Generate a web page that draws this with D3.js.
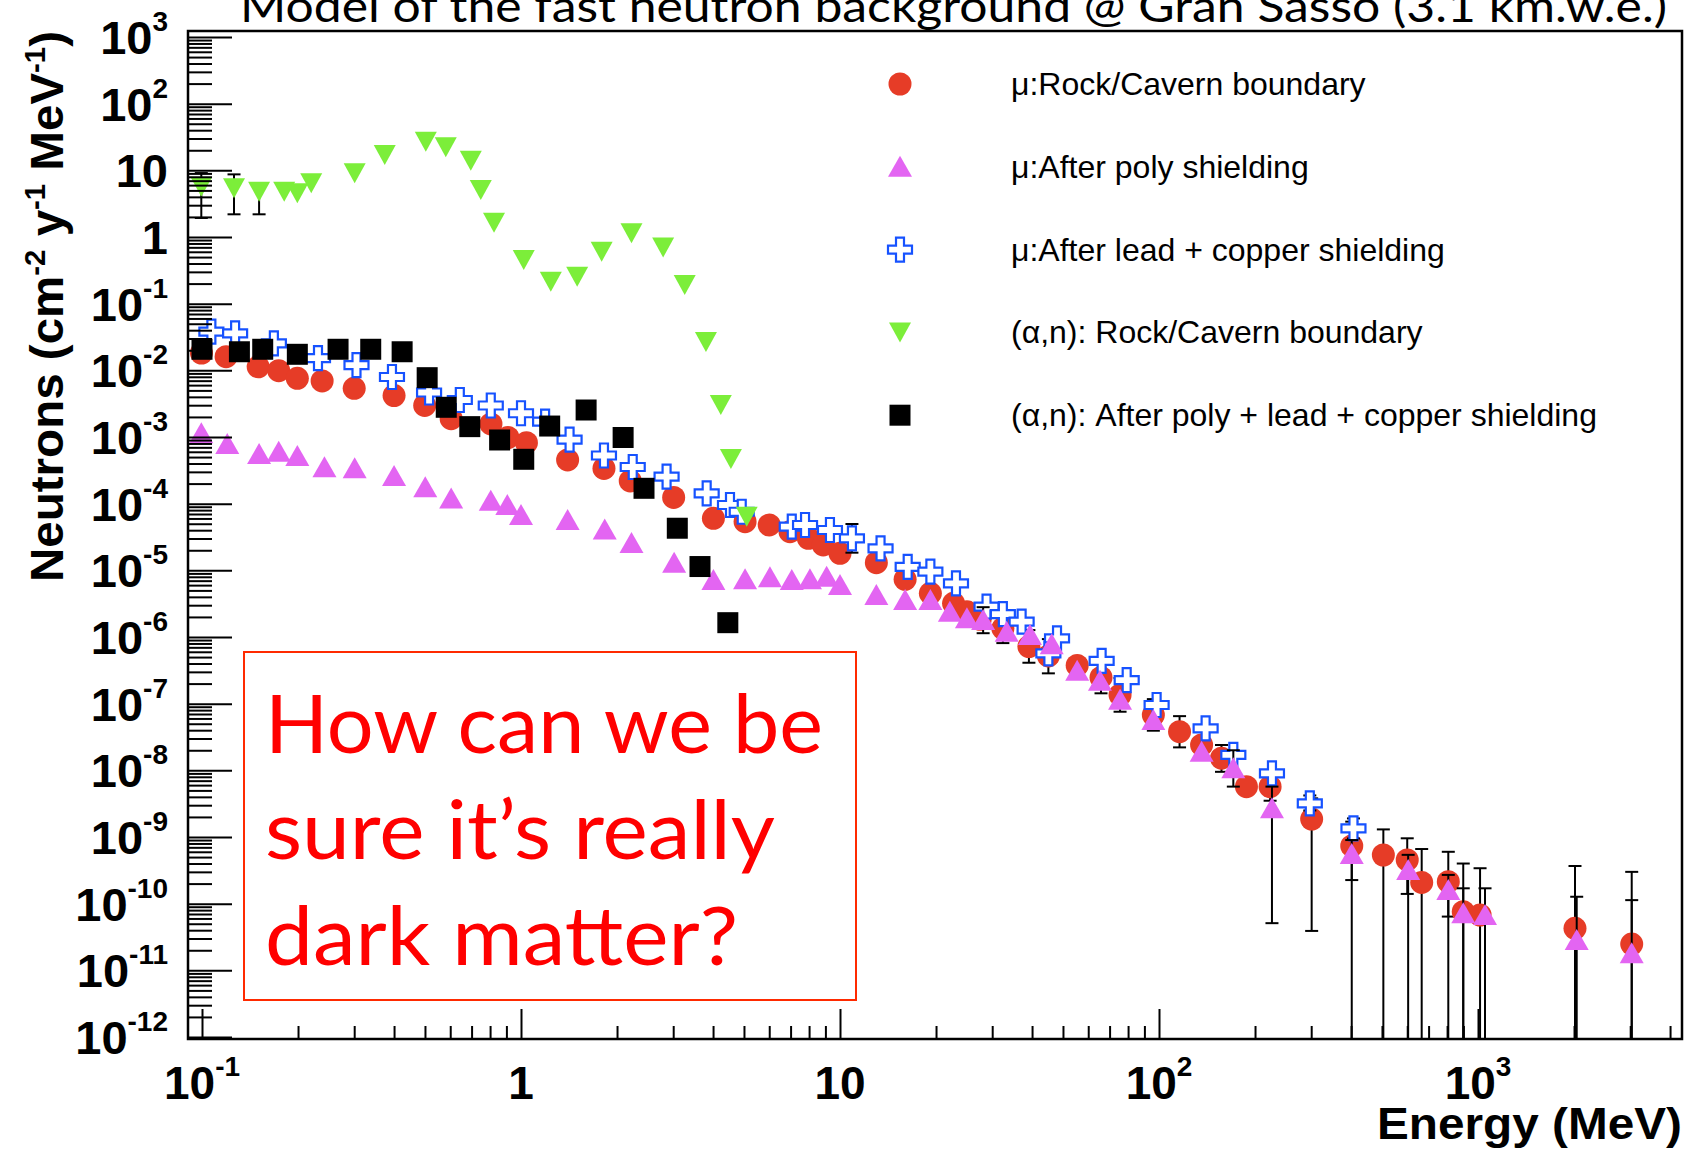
<!DOCTYPE html>
<html>
<head>
<meta charset="utf-8">
<script src="https://cdn.jsdelivr.net/npm/d3@7"></script>
<style>
  body { margin: 0; background: #fff; }
  svg { display: block; background: #fff; }
  .tick-label, .axis-title { font-family: "Liberation Sans", Arial, Helvetica, sans-serif; font-weight: bold; fill: #000; }
  .legend-text { font-family: "Liberation Sans", Arial, Helvetica, sans-serif; font-size: 32px; fill: #000; }
  .slide-text { font-family: Lato, "Open Sans", sans-serif; }
</style>
</head>
<body>
<svg id="chart" width="1692" height="1150"></svg>
<script>
// ---- data (energy in MeV, flux in neutrons cm^-2 y^-1 MeV^-1) ----
const redE = [0.0996, 0.119, 0.150, 0.174, 0.199, 0.238, 0.300, 0.400, 0.499, 0.604, 0.805, 0.910, 1.04, 1.40, 1.82, 2.20, 3.01, 4.01, 5.04, 6.00, 6.97, 7.96, 8.86, 10.0, 13.0, 16.0, 19.2, 22.7, 25.0, 27.5, 32.4, 39.1, 45.0, 55.4, 65.8, 75.5, 96.0, 116, 136, 157, 188, 223, 301, 402, 505, 600, 666, 807, 899, 1015, 2014, 3033];
const redN = [0.0182, 0.0160, 0.0113, 0.00988, 0.0076, 0.00692, 0.00538, 0.00419, 0.00297, 0.00188, 0.00157, 9.83e-4, 8.21e-4, 4.52e-4, 3.37e-4, 2.19e-4, 1.24e-4, 6.03e-5, 5.36e-5, 4.79e-5, 3.80e-5, 3.02e-5, 2.40e-5, 1.80e-5, 1.30e-5, 7.34e-6, 4.52e-6, 3.20e-6, 2.40e-6, 1.84e-6, 1.35e-6, 7.20e-7, 5.19e-7, 3.74e-7, 2.47e-7, 1.35e-7, 6.76e-8, 3.80e-8, 2.40e-8, 1.52e-8, 5.68e-9, 5.68e-9, 1.86e-9, 7.33e-10, 5.37e-10, 4.52e-10, 2.08e-10, 2.14e-10, 7.57e-11, 6.76e-11, 4.27e-11, 2.48e-11];

const pinkE = [0.0995, 0.120, 0.151, 0.174, 0.199, 0.242, 0.301, 0.400, 0.501, 0.604, 0.804, 0.906, 1.00, 1.40, 1.83, 2.22, 3.02, 4.01, 5.04, 6.03, 7.06, 8.05, 9.08, 10.0, 13.0, 16.0, 19.2, 22.1, 25.0, 28.1, 33.3, 39.4, 46.1, 55.4, 65.3, 75.5, 96.0, 136, 171, 226, 402, 604, 807, 899, 1052, 2039, 3033];
const pinkN = [1.14e-3, 7.85e-4, 5.56e-4, 6.02e-4, 5.19e-4, 3.51e-4, 3.39e-4, 2.60e-4, 1.76e-4, 1.20e-4, 1.11e-4, 9.55e-5, 6.76e-5, 5.69e-5, 4.08e-5, 2.57e-5, 1.30e-5, 7.16e-6, 7.34e-6, 7.86e-6, 7.16e-6, 7.34e-6, 8.02e-6, 6.03e-6, 4.27e-6, 3.59e-6, 3.59e-6, 2.40e-6, 1.91e-6, 1.80e-6, 1.20e-6, 1.07e-6, 7.80e-7, 3.11e-7, 2.20e-7, 1.14e-7, 5.69e-8, 1.90e-8, 1.07e-8, 2.70e-9, 5.56e-10, 3.20e-10, 1.60e-10, 7.17e-11, 6.76e-11, 2.85e-11, 1.80e-11];

const blueE = [0.107, 0.127, 0.168, 0.231, 0.305, 0.394, 0.515, 0.643, 0.804, 1.00, 1.19, 1.42, 1.82, 2.24, 2.86, 3.82, 4.52, 4.92, 7.06, 7.77, 9.30, 10.9, 13.4, 16.3, 19.2, 23.1, 28.8, 32.4, 37.1, 45.0, 47.9, 66.1, 79.2, 98.3, 140, 171, 226, 297, 407];
const blueN = [0.038, 0.0359, 0.0254, 0.0152, 0.0120, 0.00794, 0.00465, 0.00359, 0.00297, 0.00227, 0.0017, 9.14e-4, 5.28e-4, 3.55e-4, 2.54e-4, 1.43e-4, 9.55e-5, 7.57e-5, 4.51e-5, 4.79e-5, 4.03e-5, 3.02e-5, 2.14e-5, 1.13e-5, 9.54e-6, 6.39e-6, 2.85e-6, 2.21e-6, 1.70e-6, 5.69e-7, 9.56e-7, 4.37e-7, 2.26e-7, 9.55e-8, 4.27e-8, 1.70e-8, 9.03e-9, 3.20e-9, 1.35e-9];

const greenE = [0.0995, 0.126, 0.151, 0.181, 0.199, 0.220, 0.301, 0.374, 0.503, 0.581, 0.696, 0.748, 0.823, 1.02, 1.24, 1.50, 1.79, 2.22, 2.79, 3.26, 3.80, 4.23, 4.55, 5.10];
const greenN = [5.68, 5.38, 4.78, 4.78, 4.52, 6.39, 9.03, 17.0, 26.9, 22.2, 13.9, 5.07, 1.64, 0.452, 0.214, 0.254, 0.602, 1.14, 0.696, 0.191, 0.0266, 0.00302, 4.68e-4, 6.38e-5];

const blackE = [0.100, 0.131, 0.155, 0.199, 0.267, 0.338, 0.424, 0.508, 0.583, 0.691, 0.857, 1.02, 1.23, 1.60, 2.09, 2.43, 3.09, 3.64, 4.45];
const blackN = [0.0207, 0.0190, 0.0207, 0.0174, 0.0207, 0.0207, 0.0190, 0.00776, 0.00279, 0.00143, 9.02e-4, 4.63e-4, 1.46e-3, 2.54e-3, 9.83e-4, 1.70e-4, 4.28e-5, 1.14e-5, 1.64e-6];

// error bars as [energy, low, high]; a low of 1e-13 runs off the bottom of the frame
const redErr = [[32.4, 8.1e-7, 2.29e-6], [39.1, 4.11e-7, 1.27e-6], [45.0, 2.85e-7, 9.3e-7], [65.8, 1.43e-7, 4.2e-7], [75.5, 7.57e-8, 2.43e-7], [96.0, 3.93e-8, 1.17e-7], [116, 2.21e-8, 6.5e-8], [157, 9.5e-9, 2.4e-8], [223, 3.5e-9, 9e-9], [301, 3.9e-11, 3.8e-9], [402, 2.26e-10, 1.7e-9], [505, 1e-13, 1.3e-9], [600, 1.4e-10, 9.56e-10], [666, 1e-13, 6.6e-10], [807, 6.4e-11, 6.0e-10], [899, 1e-13, 4.0e-10], [1015, 1e-13, 3.4e-10], [2014, 1e-13, 3.67e-10], [3033, 1e-13, 3.0e-10]];
const pinkErr = [[28.1, 1.14e-6, 2.8e-6], [171, 5.7e-9, 2e-8], [226, 5.1e-11, 5.7e-9], [402, 1e-13, 9.0e-10], [604, 1e-13, 5.4e-10], [807, 1e-13, 2.7e-10], [899, 1e-13, 1.7e-10], [1052, 1e-13, 1.7e-10], [2039, 1e-13, 1.27e-10], [3033, 1e-13, 1.13e-10]];
const blueErr = [[10.9, 1.84e-5, 4.95e-5], [297, 2.5e-9, 4.2e-9], [407, 9.5e-10, 1.9e-9]];
const greenErr = [[0.0995, 1.93, 9.1], [0.126, 2.19, 8.7], [0.151, 2.19, 6.39]];

const legendLabels = ["\u03bc:Rock/Cavern boundary", "\u03bc:After poly shielding", "\u03bc:After lead + copper shielding", "(\u03b1,n): Rock/Cavern boundary", "(\u03b1,n): After poly + lead + copper shielding"];
const xTickExp = [-1, 0, 1, 2, 3];
const yTickExp = [3, 2, 1, 0, -1, -2, -3, -4, -5, -6, -7, -8, -9, -10, -11, -12];
const titleText = "Model of the fast neutron background @ Gran Sasso (3.1 km.w.e.)";
const noteLines = ["How can we be", "sure it\u2019s really", "dark matter?"];

// ---- layout ----
const frame = { left: 188, right: 1682, top: 31, bottom: 1039 };
const svg = d3.select("#chart");

const x = d3.scaleLog().domain([0.1, 1000]).range([202, 1478]);
const y = d3.scaleLog().domain([1e-12, 1e3]).range([1037, 37]);

// marker shapes, centred on 0,0
const shapes = {
    circle: () => d3.symbol(d3.symbolCircle, Math.PI * 11.5 * 11.5)(),
    up: () => "M-12,10L12,10L0,-11Z",
    down: () => "M-11,-10L11,-10L0,10Z",
    square: () => "M-10.5,-10.5H10.5V10.5H-10.5Z",
    cross: () => "M-4,-12H4V-4H12V4H4V12H-4V4H-12V-4H-4Z"
};

const series = [
    { E: redE, N: redN, err: redErr, shape: "circle", fill: "#e63c27", stroke: "none" },
    { E: blueE, N: blueN, err: blueErr, shape: "cross", fill: "#fff", stroke: "#1652ff" },
    { E: pinkE, N: pinkN, err: pinkErr, shape: "up", fill: "#e365f2", stroke: "none" },
    { E: greenE, N: greenN, err: greenErr, shape: "down", fill: "#7cee3a", stroke: "none" },
    { E: blackE, N: blackN, err: [], shape: "square", fill: "#000", stroke: "none" }
];
// legend order differs from draw order
const legendOrder = [0, 2, 1, 3, 4];

// ---- title (cut by the top edge, as on the slide) ----
svg.append("text")
    .attr("class", "slide-text")
    .attr("x", 240).attr("y", 22)
    .attr("font-size", 44)
    .attr("textLength", 1427)
    .attr("lengthAdjust", "spacingAndGlyphs")
    .text(titleText);

// ---- data ----
svg.append("clipPath").attr("id", "plot-clip")
    .append("rect")
    .attr("x", frame.left).attr("y", frame.top)
    .attr("width", frame.right - frame.left).attr("height", frame.bottom - frame.top);

const plot = svg.append("g").attr("clip-path", "url(#plot-clip)");

series.forEach(s => {
    const g = plot.append("g");
    const bars = g.selectAll(".err").data(s.err).enter().append("g").attr("class", "err")
        .attr("stroke", "#000").attr("stroke-width", 2);
    bars.append("line")
        .attr("x1", d => x(d[0])).attr("x2", d => x(d[0]))
        .attr("y1", d => y(d[1])).attr("y2", d => y(d[2]));
    bars.append("line")
        .attr("x1", d => x(d[0]) - 6.5).attr("x2", d => x(d[0]) + 6.5)
        .attr("y1", d => y(d[2])).attr("y2", d => y(d[2]));
    bars.filter(d => d[1] > 1e-12).append("line")
        .attr("x1", d => x(d[0]) - 6.5).attr("x2", d => x(d[0]) + 6.5)
        .attr("y1", d => y(d[1])).attr("y2", d => y(d[1]));

    g.selectAll(".pt").data(d3.zip(s.E, s.N)).enter().append("path")
        .attr("class", "pt")
        .attr("transform", d => "translate(" + x(d[0]) + "," + y(d[1]) + ")")
        .attr("d", shapes[s.shape]())
        .attr("fill", s.fill)
        .attr("stroke", s.stroke)
        .attr("stroke-width", s.stroke === "none" ? 0 : 2.2);
});

// ---- frame and ticks ----
const minorOf = exps => exps.flatMap(k => d3.range(2, 10).map(m => m * Math.pow(10, k)));

svg.append("g")
    .attr("transform", "translate(" + frame.left + ",0)")
    .call(d3.axisLeft(y).tickValues(minorOf(d3.range(-12, 3))).tickSize(-24).tickFormat(""))
    .call(g => g.select(".domain").remove());
svg.append("g")
    .attr("transform", "translate(" + frame.left + ",0)")
    .call(d3.axisLeft(y).tickValues(yTickExp.map(k => Math.pow(10, k))).tickSize(-44).tickFormat(""))
    .call(g => g.select(".domain").remove());
svg.append("g")
    .attr("transform", "translate(0," + frame.bottom + ")")
    .call(d3.axisBottom(x).tickValues(minorOf(d3.range(-1, 4)).filter(v => x(v) < frame.right)).tickSize(-13).tickFormat(""))
    .call(g => g.select(".domain").remove());
svg.append("g")
    .attr("transform", "translate(0," + frame.bottom + ")")
    .call(d3.axisBottom(x).tickValues(xTickExp.map(k => Math.pow(10, k))).tickSize(-30).tickFormat(""))
    .call(g => g.select(".domain").remove());
svg.selectAll(".tick line").attr("stroke", "#000").attr("stroke-width", 2);

svg.append("rect")
    .attr("x", frame.left).attr("y", frame.top)
    .attr("width", frame.right - frame.left).attr("height", frame.bottom - frame.top)
    .attr("fill", "none").attr("stroke", "#000").attr("stroke-width", 2.5);

// ---- tick labels: 10 with a superscript exponent ----
function powerLabel(sel) {
    sel.each(function (k) {
        const t = d3.select(this);
        if (k === 0) { t.text("1"); return; }
        t.append("tspan").text("10");
        if (k !== 1) {
            t.append("tspan").attr("font-size", 28).attr("dy", -23).text(k);
        }
    });
}

svg.append("g").selectAll("text").data(yTickExp).enter().append("text")
    .attr("class", "tick-label")
    .attr("x", 168)
    .attr("y", k => y(Math.pow(10, k)) + 17)
    .attr("text-anchor", "end")
    .attr("font-size", 47)
    .call(powerLabel);

svg.append("g").selectAll("text").data(xTickExp).enter().append("text")
    .attr("class", "tick-label")
    .attr("x", k => x(Math.pow(10, k)))
    .attr("y", 1099)
    .attr("text-anchor", "middle")
    .attr("font-size", 46)
    .call(powerLabel);

// ---- axis titles ----
svg.append("text")
    .attr("class", "axis-title")
    .attr("x", frame.right).attr("y", 1139)
    .attr("text-anchor", "end")
    .attr("font-size", 44)
    .attr("textLength", 305)
    .attr("lengthAdjust", "spacingAndGlyphs")
    .text("Energy (MeV)");

const yTitle = svg.append("text")
    .attr("class", "axis-title")
    .attr("transform", "translate(63," + frame.top + ") rotate(-90)")
    .attr("text-anchor", "end")
    .attr("font-size", 47)
    .attr("textLength", 551)
    .attr("lengthAdjust", "spacingAndGlyphs");
[["Neutrons (cm", 0], ["-2", -18], [" y", 18], ["-1", -18], [" MeV", 18], ["-1", -18], [")", 18]].forEach(p => {
    const sup = p[1] < 0;
    yTitle.append("tspan").attr("dy", p[1]).attr("font-size", sup ? 29 : 47).text(p[0]);
});

// ---- legend ----
const legend = svg.append("g");
legendOrder.forEach((si, i) => {
    const s = series[si];
    const ly = 84 + i * 82.8;
    legend.append("path")
        .attr("transform", "translate(900," + ly + ")")
        .attr("d", shapes[s.shape]())
        .attr("fill", s.fill)
        .attr("stroke", s.stroke)
        .attr("stroke-width", s.stroke === "none" ? 0 : 2.2);
    legend.append("text")
        .attr("class", "legend-text")
        .attr("x", 1011).attr("y", ly + 11)
        .text(legendLabels[i]);
});

// ---- the red note box ----
svg.append("rect")
    .attr("x", 244).attr("y", 652).attr("width", 612).attr("height", 348)
    .attr("fill", "#fff").attr("stroke", "#ff2a00").attr("stroke-width", 2);

const noteWidths = [558, 510, 473];
svg.append("g").selectAll("text").data(noteLines).enter().append("text")
    .attr("class", "slide-text")
    .attr("x", 265)
    .attr("y", (d, i) => 753 + i * 106)
    .attr("font-size", 82)
    .attr("fill", "#ff0000")
    .attr("textLength", (d, i) => noteWidths[i])
    .attr("lengthAdjust", "spacingAndGlyphs")
    .text(d => d);
</script>
</body>
</html>
